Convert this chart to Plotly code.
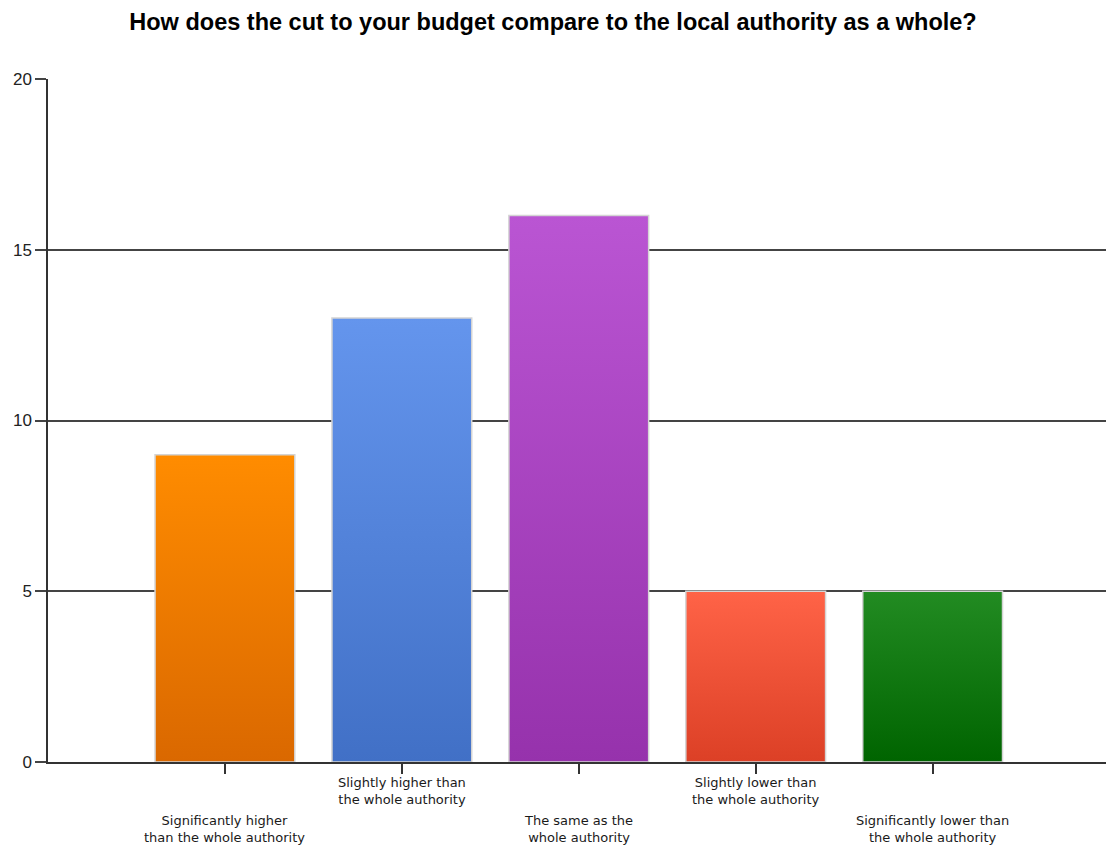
import plotly.graph_objects as go

title = "How does the cut to your budget compare to the local authority as a whole?"
categories = [
    "Significantly higher<br>than the whole authority",
    "Slightly higher than<br>the whole authority",
    "The same as the<br>whole authority",
    "Slightly lower than<br>the whole authority",
    "Significantly lower than<br>the whole authority",
]
values = [9, 13, 16, 5, 5]
top_colors = ["#FF8C00", "#6495ED", "#BA55D3", "#FF6347", "#228B22"]
bottom_colors = ["#DA6800", "#4170C6", "#9632AC", "#DC4026", "#006400"]
y_ticks = [0, 5, 10, 15, 20]

BAR_HALF = 0.395
fig = go.Figure()
for i, (v, tc, bc) in enumerate(zip(values, top_colors, bottom_colors)):
    xs = [i - BAR_HALF, i - BAR_HALF, i + BAR_HALF, i + BAR_HALF, i - BAR_HALF]
    ys = [0, v, v, 0, 0]
    fig.add_trace(go.Scatter(
        x=xs, y=ys, mode="lines", fill="toself",
        fillgradient=dict(type="vertical", colorscale=[[0, bc], [1, tc]]),
        line=dict(color="#D4D4D4", width=1.5),
        hoverinfo="skip", showlegend=False,
    ))

for i, lab in enumerate(categories):
    upper = (i % 2 == 1)
    fig.add_annotation(
        x=i, y=0, xref="x", yref="y", text=lab, showarrow=False,
        yanchor="top", xanchor="center", align="center",
        yshift=-11 if upper else -49,
        font=dict(family="DejaVu Sans", size=13, color="#1A1A1A"),
    )

fig.update_layout(
    width=1106, height=845,
    margin=dict(l=48, r=0, t=79, b=83),
    paper_bgcolor="white", plot_bgcolor="white",
    title=dict(text=title, x=0.5, xanchor="center", y=1 - 22 / 845, yanchor="middle",
               font=dict(family="Liberation Sans", size=23.5, color="#000000", weight="bold")),
    showlegend=False,
)
fig.update_xaxes(
    range=[-1.0, 4.98], tickvals=list(range(len(values))), showticklabels=False,
    ticks="outside", ticklen=10, tickcolor="#333333", tickwidth=1.5,
    showgrid=False, zeroline=False, showline=True, linecolor="#333333", linewidth=1.5,
)
fig.update_yaxes(
    range=[0, 20], tickvals=y_ticks, ticks="outside", ticklen=11, tickcolor="#444444",
    tickwidth=1.5, showgrid=True, gridcolor="#444444", gridwidth=1.5, zeroline=False,
    showline=True, linecolor="#333333", linewidth=1.5,
    tickfont=dict(family="Liberation Sans", size=17, color="#222222"),
)

fig.write_html("out.html")
